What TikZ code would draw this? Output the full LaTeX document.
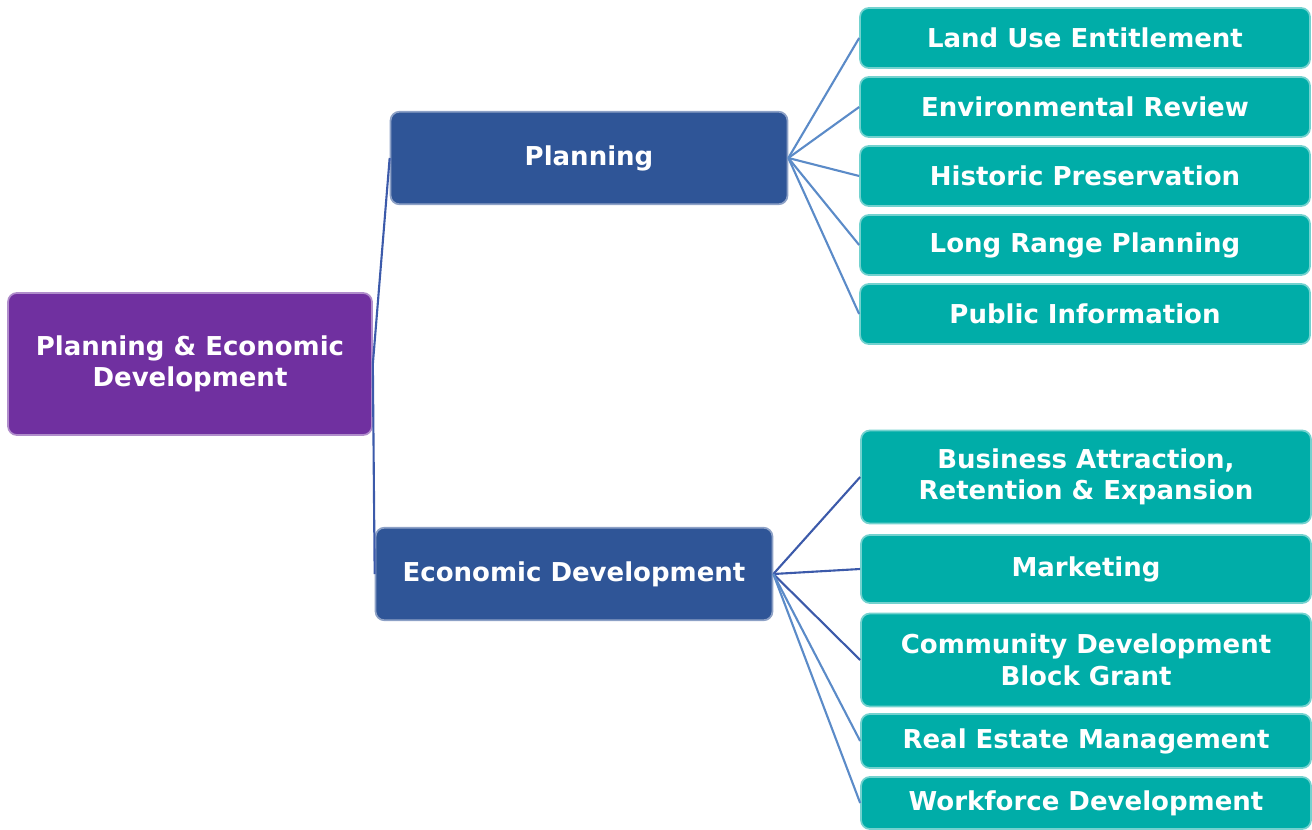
\documentclass[tikz,border=0pt]{standalone}
\usepackage{fontspec}
\setmainfont{DejaVu Sans}
\usetikzlibrary{positioning}
\definecolor{rootpurple}{RGB}{112,48,160}
\definecolor{deptblue}{RGB}{47,85,151}
\definecolor{unitteal}{RGB}{0,173,168}
\definecolor{planlink}{RGB}{91,139,200}
\definecolor{econlink}{RGB}{60,90,170}

\begin{document}
\begin{tikzpicture}[
  x=0.02cm, y=-0.02cm,
  box/.style={rounded corners=5pt, align=center, text=white,
              font=\fontsize{14.8}{18}\selectfont\bfseries,
              inner sep=2pt, line width=1pt},
  rootbox/.style={box, fill=rootpurple, draw=rootpurple!55!white,
                  minimum width=7.28cm, minimum height=2.84cm},
  deptbox/.style={box, fill=deptblue, draw=deptblue!55!white,
                  minimum width=7.94cm, minimum height=1.85cm},
  unitbox/.style={box, fill=unitteal, draw=unitteal!55!white,
                  minimum width=9cm, minimum height=1.2cm},
  planarr/.style={planlink, line width=1.2pt},
  econarr/.style={econlink, line width=1.2pt}
]
\useasboundingbox (0,0) rectangle (1312,829);

\node[rootbox] (root) at (190,364) {Planning \& Economic\\Development};
\node[deptbox] (plan) at (589,158) {Planning};
\node[deptbox] (econ) at (574,574) {Economic Development};

% planning units
\node[unitbox] (land) at (1085,38)  {Land Use Entitlement};
\node[unitbox] (env)  at (1085,107) {Environmental Review};
\node[unitbox] (hist) at (1085,176) {Historic Preservation};
\node[unitbox] (long) at (1085,245) {Long Range Planning};
\node[unitbox] (pub)  at (1085,314) {Public Information};

% economic development units
\node[unitbox, minimum height=1.86cm] (bus)  at (1086,477) {Business Attraction,\\Retention \& Expansion};
\node[unitbox, minimum height=1.36cm] (mkt)  at (1086,569) {Marketing};
\node[unitbox, minimum height=1.86cm] (cdbg) at (1086,660) {Community Development\\Block Grant};
\node[unitbox, minimum height=1.08cm] (real) at (1086,741) {Real Estate Management};
\node[unitbox, minimum height=1.04cm] (work) at (1086,803) {Workforce Development};

\draw[econarr] (root.east)--(plan.west);
\draw[econarr] (root.east)--(econ.west);
\foreach \u in {land,env,hist,long,pub}
  \draw[planarr] (plan.east)--(\u.west);
\foreach \u in {bus,mkt,cdbg}
  \draw[econarr] (econ.east)--(\u.west);
\foreach \u in {real,work}
  \draw[planarr] (econ.east)--(\u.west);
\end{tikzpicture}
\end{document}
